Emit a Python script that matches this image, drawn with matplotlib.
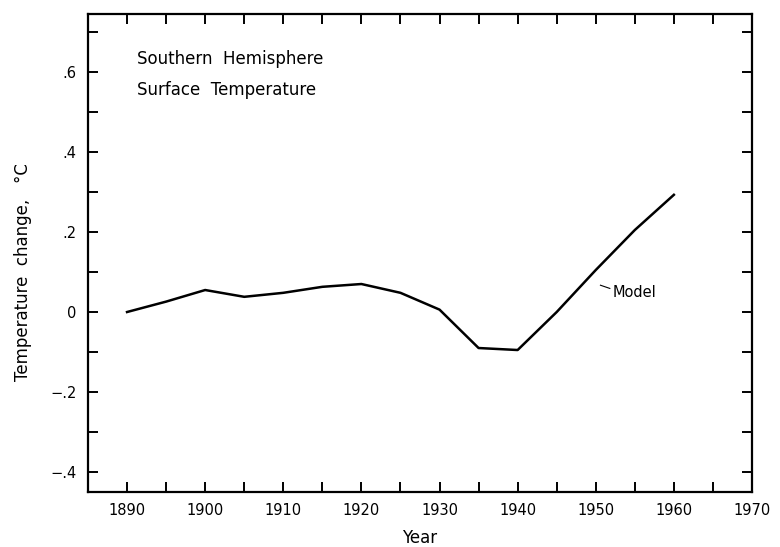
import matplotlib
matplotlib.use('Agg')
import matplotlib.pyplot as plt
import numpy as np

years = [1890, 1895, 1900, 1905, 1910, 1915, 1920, 1925, 1930, 1935, 1940, 1945, 1950, 1955, 1960]
temp = [0.0, 0.026, 0.055, 0.038, 0.048, 0.063, 0.07, 0.048, 0.006, -0.09, -0.095, 0.0, 0.105, 0.205, 0.293]

xticks = np.arange(1890, 1971, 10)
yticks = [-0.4, -0.2, 0, 0.2, 0.4, 0.6]
ylabels = ['\u2212.4', '\u2212.2', '0', '.2', '.4', '.6']

fig = plt.figure(figsize=(7.8, 5.47), dpi=100)
ax = fig.add_axes([0.1128, 0.1005, 0.8513, 0.8739])

ax.plot(years, temp, color='black', linewidth=1.8)

ax.set_xlim(1885, 1970)
ax.set_ylim(-0.45, 0.745)

ax.set_xticks(xticks)
ax.set_xticklabels([str(y) for y in xticks])
ax.set_xticks(np.arange(1895, 1970, 10), minor=True)
ax.set_yticks(yticks)
ax.set_yticklabels(ylabels)
ax.set_yticks([-0.3, -0.1, 0.1, 0.3, 0.5, 0.7], minor=True)

ax.tick_params(which='both', direction='in', top=True, right=True,
               length=7, width=1.4, labelsize=10.5, pad=8)

for s in ax.spines.values():
    s.set_linewidth(1.6)

ax.set_xlabel('Year', fontsize=12, labelpad=8)
ax.set_ylabel('Temperature  change,   \u00b0C', fontsize=12)
ax.yaxis.set_label_coords(-0.085, 0.46)

ax.text(0.074, 0.905, 'Southern  Hemisphere', transform=ax.transAxes, fontsize=12, va='center')
ax.text(0.074, 0.842, 'Surface  Temperature', transform=ax.transAxes, fontsize=12, va='center')

# leader line for the curve label
ax.plot([1950.6, 1951.8], [0.067, 0.059], color='black', linewidth=0.8)
ax.text(1952.2, 0.05, 'Model', fontsize=10.5, va='center', ha='left')

fig.savefig('out.png', dpi=100)
